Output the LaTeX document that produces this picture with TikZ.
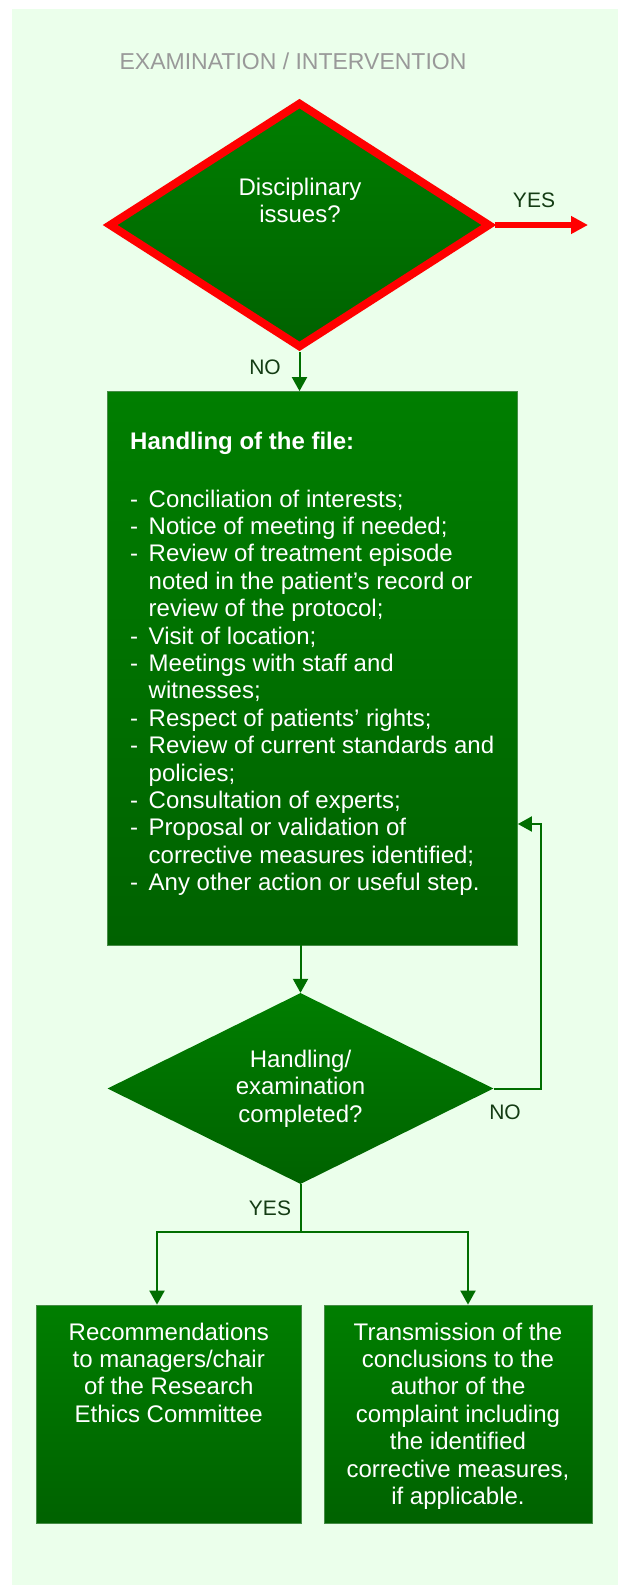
\documentclass[tikz,border=0pt]{standalone}
\usepackage{fontspec}
\setmainfont{Liberation Sans}
\usetikzlibrary{shapes.geometric, arrows.meta}

\definecolor{fond}{RGB}{235,255,235}
\definecolor{vert}{RGB}{0,110,0}
\definecolor{verthaut}{RGB}{0,126,0}
\definecolor{vertbas}{RGB}{0,98,0}
\definecolor{bord}{RGB}{70,140,70}
\definecolor{etiq}{RGB}{20,60,20}
\definecolor{titre}{RGB}{153,153,153}

\newcommand{\tiret}{\makebox[18.5pt][l]{-}}
\newcommand{\suite}{\hspace*{18.5pt}}

\begin{document}
\begin{tikzpicture}[x=1pt, y=-1pt,
  boite/.style={draw=bord, line width=0.8pt, top color=verthaut, bottom color=vertbas, inner sep=0pt},
  losange/.style={diamond, aspect=2, top color=verthaut, bottom color=vertbas, inner sep=0pt},
  texte/.style={text=white, font=\fontsize{24}{27.4}\selectfont, inner sep=0pt, align=center},
  etiquette/.style={text=etiq, font=\fontsize{21}{24}\selectfont, inner sep=0pt},
  trait/.style={draw=vert, line width=2pt},
  fleche/.style={trait, -{Triangle[length=14pt, width=15pt]}}]
  \useasboundingbox (0, 0) rectangle (618, 1585);

  % fond
    \fill[fond] (12, 9) rectangle (618, 1585);
    \node[font=\fontsize{23}{26}\selectfont, text=titre, inner sep=0pt] at (293, 61) (titre) {EXAMINATION / INTERVENTION};

  % question disciplinaire
    \node[losange, draw=red, line width=8pt, minimum width=382pt, minimum height=246pt] at (299.5, 225) (disc) {};
    \node[texte] at (300, 200.5) (disctxt) {Disciplinary\\issues?};
    \coordinate (oui) at (588, 225);
    \draw[red, line width=5.5pt, -{Triangle[length=17pt, width=17pt]}] (disc.east) -- (oui);
    \node[etiquette] at (534, 200) (oui1) {YES};
    \node[etiquette] at (265, 367) (non1) {NO};

  % traitement du dossier
    \node[boite, minimum width=410pt, minimum height=553.5pt] at (312.5, 668.25) (dossier) {};
    \node[texte, align=left, anchor=north west] at (130, 432) (dossiertxt) {%
      \textbf{Handling of the file:}\\[30pt]
      \tiret Conciliation of interests;\\
      \tiret Notice of meeting if needed;\\
      \tiret Review of treatment episode\\
      \suite noted in the patient’s record or\\
      \suite review of the protocol;\\
      \tiret Visit of location;\\
      \tiret Meetings with staff and\\
      \suite witnesses;\\
      \tiret Respect of patients’ rights;\\
      \tiret Review of current standards and\\
      \suite policies;\\
      \tiret Consultation of experts;\\
      \tiret Proposal or validation of\\
      \suite corrective measures identified;\\
      \tiret Any other action or useful step.};
    \draw[fleche] (disc.south) -- (disc.south |- dossier.north);

  % fin du traitement ?
    \node[losange, texte, minimum width=386pt, minimum height=191pt] at (300.5, 1088.5) (fin) {Handling/\\examination\\completed?};
    \draw[fleche] (dossier.south -| fin.north) -- (fin.north);
    \coordinate (retour) at (541, 824);
    \draw[fleche] (fin.east) -| (retour) -- (retour -| dossier.east);
    \node[etiquette] at (505, 1112) (non2) {NO};

  % suites
    \node[boite, minimum width=264.5pt, minimum height=218pt] at (168.75, 1414) (recom) {};
    \node[boite, minimum width=268pt, minimum height=218pt] at (458, 1414) (transm) {};
    \node[texte, anchor=north] at (168.75, 1322.4) (recomtxt) {Recommendations\\to managers/chair\\of the Research\\Ethics Committee};
    \node[texte, anchor=north] at (458, 1322.4) (transmtxt) {Transmission of the\\conclusions to the\\author of the\\complaint including\\the identified\\corrective measures,\\if applicable.};
    \coordinate (partage) at (300.5, 1232);
    \draw[trait] (fin.south) -- (partage);
    \draw[fleche] (partage) -| ([xshift=-11.75pt]recom.north);
    \draw[fleche] (partage) -| ([xshift=10pt]transm.north);
    \node[etiquette] at (270, 1208) (oui2) {YES};
\end{tikzpicture}
\end{document}
